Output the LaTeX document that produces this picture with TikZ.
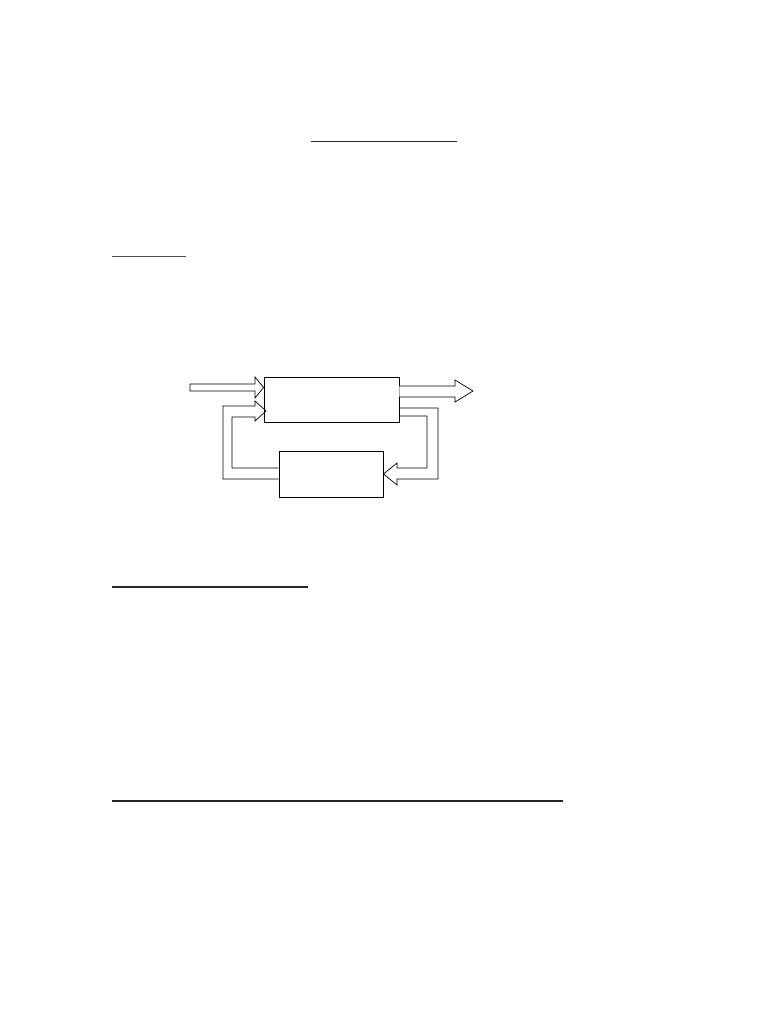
\documentclass[tikz,border=0pt]{standalone}
\usetikzlibrary{calc}
\begin{document}
\begin{tikzpicture}[x=1pt,y=-1pt,
  blockbox/.style={draw=black,line width=0.8pt,fill=white,inner sep=0pt,minimum width=#1},
  hollow/.style={draw=black,line width=0.7pt,fill=white,line join=miter},
  rule/.style={line width=1.7pt,black!85}]
\useasboundingbox[fill=white] (0,0) rectangle (768,1024);
% rules
\coordinate (r1a) at (311,141.5); \coordinate (r1b) at (457,141.5);
\draw[rule] (r1a) -- (r1b);
\coordinate (r2a) at (112,256.5); \coordinate (r2b) at (186,256.5);
\draw[line width=1.4pt,black!70] (r2a) -- (r2b);
\coordinate (r3a) at (112,587.3); \coordinate (r3b) at (308,587.3);
\draw[rule] (r3a) -- (r3b);
\coordinate (r4a) at (112,801); \coordinate (r4b) at (563,801);
\draw[rule] (r4a) -- (r4b);
% blocks
\node[blockbox=135pt,minimum height=45pt] (plant) at (331.5,399.5) {};
\node[blockbox=104pt,minimum height=46pt] (ctrl) at (331,474) {};
% input arrow
\coordinate (in) at (190,387.5);
\draw[hollow] (in) ++(0,-3.5) -- (255,384) -- (255,377) -- (plant.west |- 0,387.5) -- (255,398) -- (255,391) -- (190,391) -- cycle;
% output arrow
\draw[hollow] (plant.east |- 0,386) -- (455,386) -- (455,380) -- (473,391) -- (455,402) -- (455,397) -- (plant.east |- 0,397);
% feedback right: plant -> ctrl
\draw[hollow,fill=none] (plant.east |- 0,408) -- (438,408) -- (438,479) -- (397,479) -- (397,485) -- (ctrl.east |- 0,474) -- (397,463) -- (397,468) -- (427,468) -- (427,416) -- (plant.east |- 0,416);
% feedback left: ctrl -> plant
\draw[hollow,fill=none] (ctrl.west |- 0,479) -- (223,479) -- (223,406) -- (255,406) -- (255,401) -- (266,411) -- (255,421) -- (255,417) -- (232,417) -- (232,468) -- (ctrl.west |- 0,468);
\end{tikzpicture}
\end{document}
